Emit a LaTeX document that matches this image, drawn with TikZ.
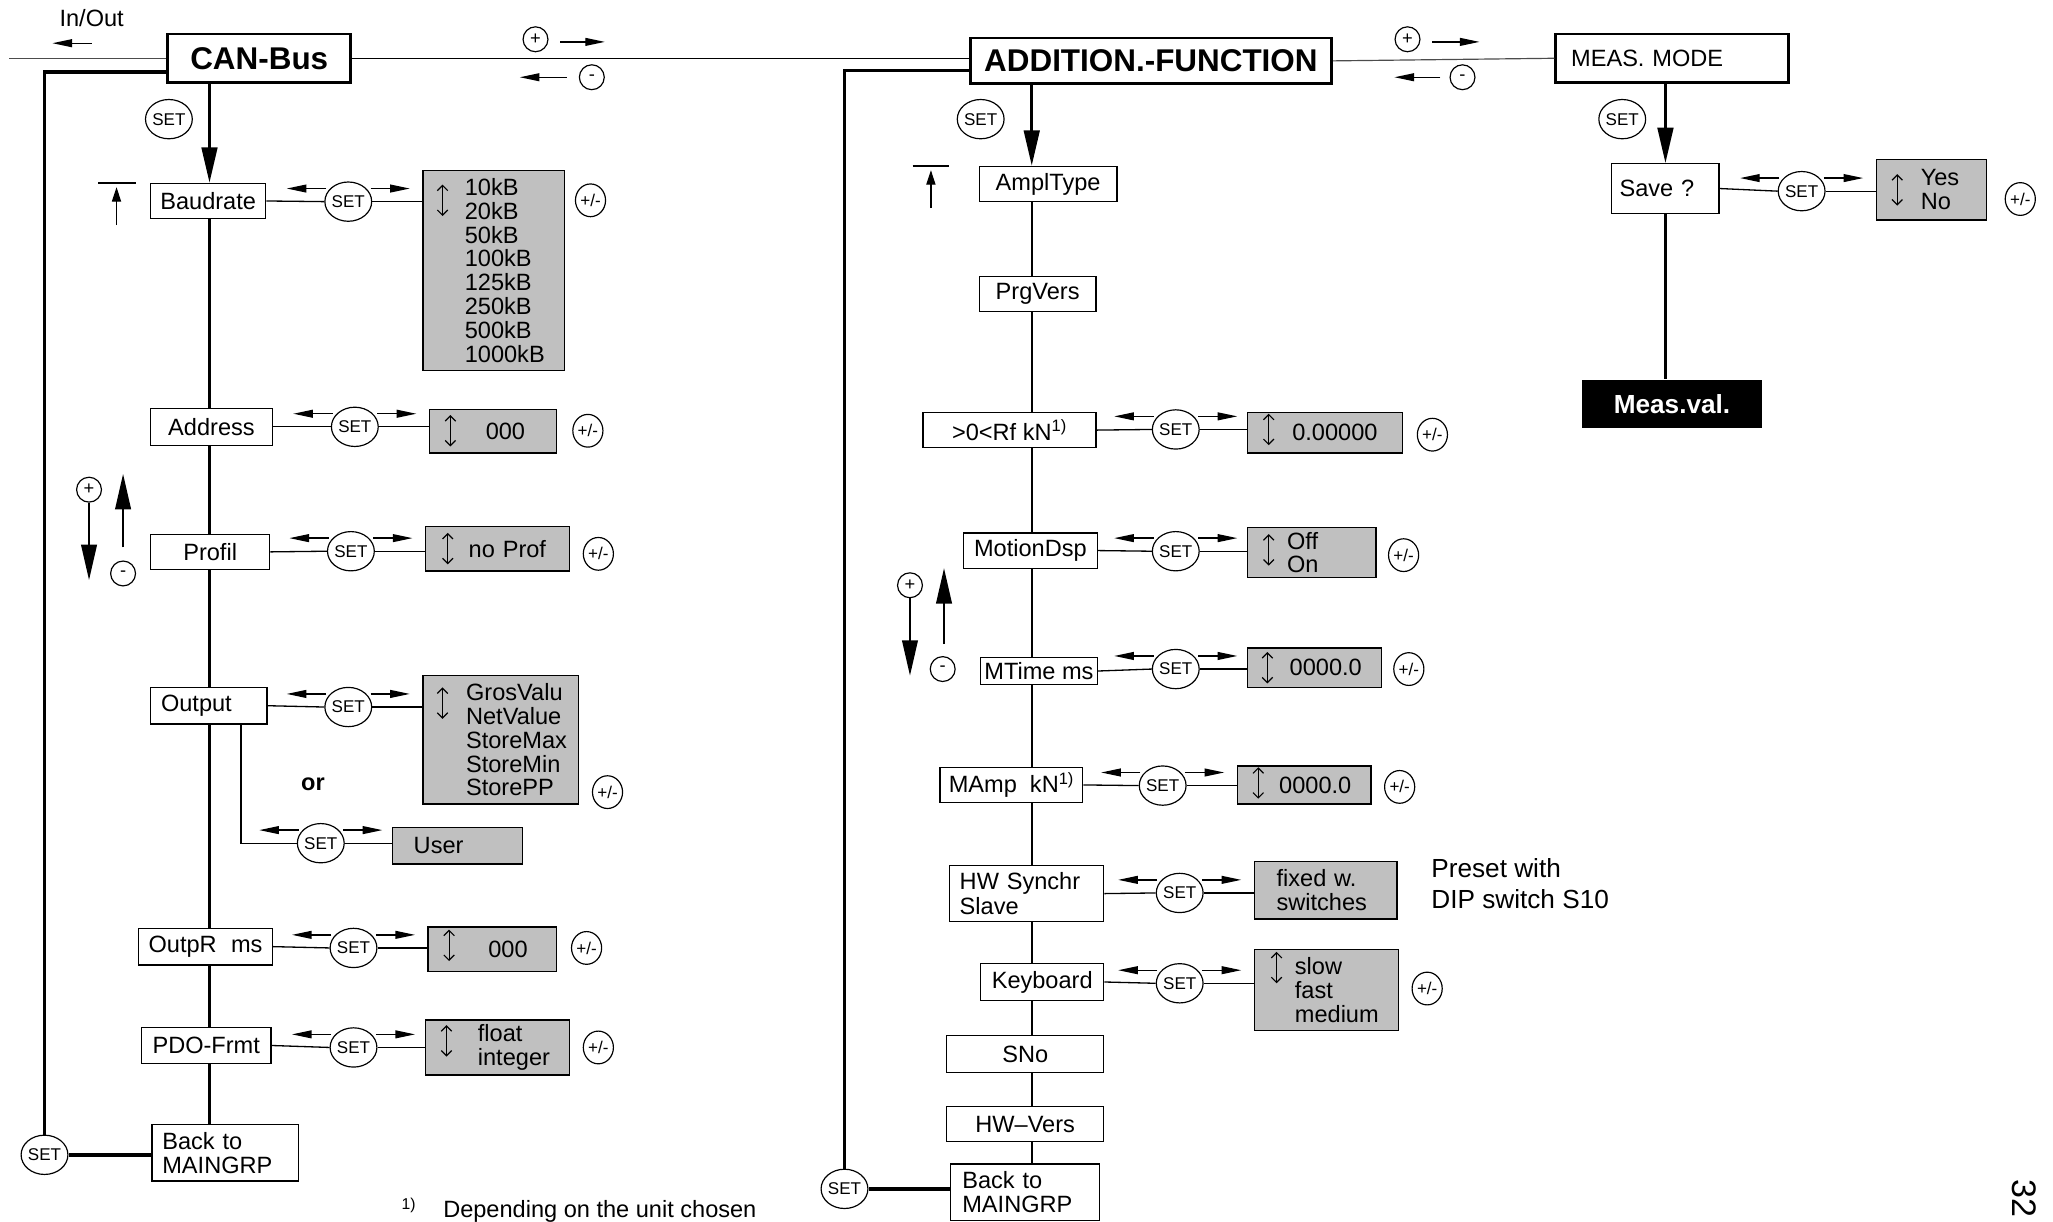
\documentclass[tikz,border=0pt]{standalone}
\usepackage{fontspec}
\setmainfont{Liberation Sans}
\usetikzlibrary{arrows.meta,shapes.geometric,backgrounds}
\definecolor{valgray}{RGB}{192,192,192}
\newcommand\fL{\fontsize{18}{18.6}\selectfont}
\newcommand\fV{\fontsize{18}{18.2}\selectfont}
\newcommand\mklab[7][]{%
  \pgfmathsetmacro\mkw{#5-#3}\pgfmathsetmacro\mkh{#6-#4}%
  \node[lab, minimum width=\mkw pt, minimum height=\mkh pt, #1] (#2) at ({(#3+#5)/2},{(#4+#6)/2}) {#7};}
\newcommand\mkboxL[8][]{%
  \pgfmathsetmacro\mkw{#5-#3}\pgfmathsetmacro\mkh{#6-#4}\pgfmathsetmacro\mkt{#5-#3-2*#7}%
  \node[#1, minimum width=\mkw pt, minimum height=\mkh pt, text width=\mkt pt, align=left] (#2) at ({(#3+#5)/2},{(#4+#6)/2}) {#8};}
\newcommand\ud[2]{\draw[updown] (#1,{#2-12}) -- (#1,{#2+12});}
\newcommand\setarr[1]{%
  \draw[sarr] ([shift={(-17,-10)}]#1.center) -- ++(-30,0);
  \draw[sarr] ([shift={(17,-10)}]#1.center) -- ++(30,0);}
\begin{document}
\begin{tikzpicture}[x=1pt,y=-1pt,
  lab/.style={draw, line width=1pt, fill=white, inner sep=0pt, font=\fL},
  hdr/.style={draw, line width=2.2pt, fill=white, inner sep=0pt, font=\bfseries\fontsize{24}{24}\selectfont},
  val/.style={draw, line width=1pt, fill=valgray, inner sep=0pt, font=\fV},
  setc/.style={draw, ellipse, line width=0.9pt, minimum width=28pt, minimum height=30pt, inner sep=0pt, fill=white, font=\fontsize{13}{13}\selectfont},
  pmc/.style={draw, ellipse, line width=0.9pt, minimum width=23pt, minimum height=25pt, inner sep=0pt, font=\fontsize{13}{13}\selectfont},
  sgn/.style={draw, circle, line width=0.9pt, minimum size=19pt, inner sep=0pt, font=\fontsize{14}{14}\selectfont},
  conn/.style={line width=1pt},
  gline/.style={line width=0.9pt, black!70},
  spine/.style={line width=1.8pt},
  loopl/.style={line width=2.6pt},
  sarr/.style={line width=1pt, -{Triangle[length=15pt,width=6pt]}},
  bigarr/.style={line width=2pt, -{Triangle[length=27pt,width=12pt]}},
  navarr/.style={line width=1.3pt, -{Triangle[length=27pt,width=12pt]}},
  toparr/.style={line width=0.9pt, -{Triangle[length=11pt,width=7pt]}},
  updown/.style={line width=0.9pt, {Straight Barb[length=4pt,width=8pt]}-{Straight Barb[length=4pt,width=8pt]}}
]
\useasboundingbox (0,0) rectangle (1568,933);
\clip (0,0) rectangle (1568,933);

% ---------------- header row ----------------
\node[hdr, minimum width=140pt, minimum height=37pt] (can) at (198,44.5) {CAN-Bus};
\node[hdr, minimum width=276pt, minimum height=35pt] (add) at (879,46.5) {ADDITION.-FUNCTION};
\mkboxL[lab, line width=1.6pt, inner sep=0pt]{meas}{1188}{26}{1366}{63}{12}{MEAS.~MODE}
\node[font=\fL] (inout) at (70,14) {In/Out};
\draw[sarr] (70,33) -- (40,33);
\coordinate (lin) at (7,44.5);
\draw[gline] (lin) -- (can.west);
\draw[conn] (can.east) -- (can.east -| add.west);
\draw[gline] (add.east) -- (meas.west);
\node[sgn] (p1) at (409,30) {+};
\draw[sarr] (428,32) -- (462,32);
\node[sgn] (m1) at (452,59) {-};
\draw[sarr] (433,59) -- (397,59);
\node[sgn] (p2) at (1075,30) {+};
\draw[sarr] (1094,32) -- (1130,32);
\node[sgn] (m2) at (1117,59) {-};
\draw[sarr] (1100,59) -- (1065,59);

% ---------------- CAN-Bus column ----------------
\coordinate (spL) at (160,0);
\node[setc] (set0) at (129,91) {SET};
\mklab{baud}{115}{140}{203}{167}{Baudrate}
\mklab{addr}{115}{312}{208}{340}{Address}
\mklab{prof}{115}{408}{206}{435}{Profil}
\mkboxL[lab]{outp}{115}{525}{204}{553}{8}{Output}
\mklab{outr}{106}{709}{208}{737}{OutpR\hspace{11pt}ms}
\mklab{pdo}{108}{785}{207}{812}{PDO-Frmt}
\mkboxL[lab]{back1}{116}{859}{228}{902}{8}{Back~to\\MAINGRP}
\draw[bigarr] (can.south -| spL) -- (spL |- baud.north);
% top marker and +/- indicators
\draw[line width=1.4pt] (75,140) -- (104,140);
\draw[toparr] (89,172) -- (89,143);
\node[sgn] (pL) at (68,374) {+};
\draw[navarr] (pL.south) -- (68,443);
\draw[navarr] (94,418) -- (94,362);
\node[sgn] (mL) at (94,438) {-};
% return loop
\coordinate (lc1) at (0,55);
\node[setc] (setL) at (34,882) {SET};
\draw[loopl] (can.west |- lc1) -| (setL.north);
\draw[loopl] (setL.east) -- (setL.east -| back1.west);

% Baudrate row
\node[setc] (sbd) at (266,154) {SET};
\mkboxL[val]{vbaud}{323}{130}{431}{283}{32}{10kB\\20kB\\50kB\\100kB\\125kB\\250kB\\500kB\\1000kB}
\node[pmc] (pmbd) at (451,153) {+/-};
\draw[conn] (baud.east) -- (sbd.west);
\draw[conn] (sbd.east) -- (sbd.east -| vbaud.west);
\setarr{sbd}
\ud{338}{153}
% Address row
\node[setc] (sad) at (271,326) {SET};
\mkboxL[val]{vaddr}{328}{313}{425}{346}{43}{000}
\node[pmc] (pmad) at (449,329) {+/-};
\draw[conn] (addr.east) -- (sad.west);
\draw[conn] (sad.east) -- (sad.east -| vaddr.west);
\setarr{sad}
\ud{344}{329}
% Profil row
\node[setc] (spr) at (268,421) {SET};
\mkboxL[val]{vprof}{325}{402}{435}{436}{33}{no~Prof}
\node[pmc] (pmpr) at (457,423) {+/-};
\draw[conn] (prof.east) -- (spr.west);
\draw[conn] (spr.east) -- (spr.east -| vprof.west);
\setarr{spr}
\ud{342}{419}
% Output row
\node[setc] (sou) at (266,540) {SET};
\mkboxL[val]{vout}{323}{516}{442}{614}{33}{GrosValu\\NetValue\\StoreMax\\StoreMin\\StorePP}
\node[pmc] (pmou) at (464,605) {+/-};
\draw[conn] (outp.east) -- (sou.west);
\draw[conn] (sou.east) -- (sou.east -| vout.west);
\setarr{sou}
\ud{338}{537}
\node[font=\bfseries\fL] (or) at (239,599) {or};
\coordinate (br) at (184,0);
\node[setc] (sus) at (245,644) {SET};
\mkboxL[val]{user}{300}{632}{399}{660}{16}{User}
\draw[conn] (outp.south -| br) |- (sus.west);
\draw[conn] (sus.east) -- (sus.east -| user.west);
\setarr{sus}
% OutpR row
\node[setc] (sor) at (270,724) {SET};
\mkboxL[val]{vor}{327}{708}{425}{742}{46}{000}
\node[pmc] (pmor) at (448,724) {+/-};
\draw[conn] (outr.east) -- (sor.west);
\draw[conn] (sor.east) -- (sor.east -| vor.west);
\setarr{sor}
\ud{343}{722}
% PDO row
\node[setc] (spd) at (270,800) {SET};
\mkboxL[val]{vpdo}{325}{779}{435}{821}{40}{float\\integer}
\node[pmc] (pmpd) at (457,800) {+/-};
\draw[conn] (pdo.east) -- (spd.west);
\draw[conn] (spd.east) -- (spd.east -| vpdo.west);
\setarr{spd}
\ud{341}{795}

% footnote
\node[font=\fontsize{12}{12}\selectfont, anchor=base] (fnm) at (312,924) {1)};
\node[font=\fL, anchor=base west] (fnt) at (335,930) {Depending on the unit chosen};

% ---------------- ADDITION column ----------------
\coordinate (spM) at (788,0);
\node[setc] (setM0) at (749,91) {SET};
\mklab{ampl}{748}{127}{853}{154}{AmplType}
\mklab{prg}{748}{211}{837}{238}{PrgVers}
\mklab{rf}{705}{315}{837}{342}{>0<Rf kN\textsuperscript{1)}}
\mklab{mot}{736}{407}{838}{434}{MotionDsp}
\mklab{mt}{749}{502}{838}{523}{MTime ms}
\mklab{ma}{718}{586}{827}{613}{MAmp\hspace{10pt}kN\textsuperscript{1)}}
\mkboxL[lab]{hw}{725}{661}{843}{704}{8}{HW~Synchr\\Slave}
\mklab{kb}{749}{736}{843}{764}{Keyboard}
\mklab{sno}{723}{791}{843}{819}{SNo}
\mklab{hwv}{723}{845}{843}{872}{HW–Vers}
\mkboxL[lab]{back2}{726}{889}{840}{932}{9}{Back~to\\MAINGRP}
\draw[bigarr] (add.south -| spM) -- (spM |- ampl.north);
\draw[line width=1.4pt] (697,127) -- (725,127);
\draw[toparr] (711,159) -- (711,130);
\node[sgn] (pM) at (695,447) {+};
\draw[navarr] (pM.south) -- (695,516);
\draw[navarr] (721,492) -- (721,434);
\node[sgn] (mM) at (720,511) {-};
\coordinate (lc2) at (0,54);
\node[setc] (setM) at (645,908) {SET};
\draw[loopl] (add.west |- lc2) -| (setM.north);
\draw[loopl] (setM.east) -- (setM.east -| back2.west);

% Rf row
\node[setc] (srf) at (898,328) {SET};
\mkboxL[val]{vrf}{953}{315}{1071}{346}{34}{0.00000}
\node[pmc] (pmrf) at (1094,332) {+/-};
\draw[conn] (rf.east) -- (srf.west);
\draw[conn] (srf.east) -- (srf.east -| vrf.west);
\setarr{srf}
\ud{969}{328}
% MotionDsp row
\node[setc] (smo) at (898,421) {SET};
\mkboxL[val]{vmot}{953}{403}{1051}{441}{30}{Off\\On}
\node[pmc] (pmmo) at (1072,424) {+/-};
\draw[conn] (mot.east) -- (smo.west);
\draw[conn] (smo.east) -- (smo.east -| vmot.west);
\setarr{smo}
\ud{969}{420}
% MTime row
\node[setc] (smt) at (898,511) {SET};
\mkboxL[val]{vmt}{953}{495}{1055}{525}{32}{0000.0}
\node[pmc] (pmmt) at (1076,511) {+/-};
\draw[conn] (mt.east) -- (smt.west);
\draw[conn] (smt.east) -- (smt.east -| vmt.west);
\setarr{smt}
\ud{968}{510}
% MAmp row
\node[setc] (sma) at (888,600) {SET};
\mkboxL[val]{vma}{945}{585}{1047}{614}{32}{0000.0}
\node[pmc] (pmma) at (1069,601) {+/-};
\draw[conn] (ma.east) -- (sma.west);
\draw[conn] (sma.east) -- (sma.east -| vma.west);
\setarr{sma}
\ud{961}{598}
% HW Synchr row
\node[setc] (shw) at (901,682) {SET};
\mkboxL[val]{vhw}{958}{658}{1067}{702}{17}{fixed~w.\\switches}
\draw[conn] (hw.east) -- (shw.west);
\draw[conn] (shw.east) -- (shw.east -| vhw.west);
\setarr{shw}
\node[font=\fontsize{20}{24}\selectfont, align=left, anchor=west, inner sep=0pt] (preset) at (1093,675) {Preset with\\DIP switch S10};
% Keyboard row
\node[setc] (skb) at (901,751) {SET};
\mkboxL[val]{vkb}{958}{725}{1068}{787}{31}{slow\\fast\\medium}
\node[pmc] (pmkb) at (1090,755) {+/-};
\draw[conn] (kb.east) -- (skb.west);
\draw[conn] (skb.east) -- (skb.east -| vkb.west);
\setarr{skb}
\ud{975}{739}

% ---------------- MEAS. MODE column ----------------
\coordinate (spR) at (1272,0);
\node[setc] (setR0) at (1239,91) {SET};
\mkboxL[lab]{save}{1231}{125}{1313}{163}{6}{Save~?}
\node[fill=black, text=white, inner sep=0pt, minimum width=138pt, minimum height=37pt, font=\bfseries\fontsize{20}{20}\selectfont] (mv) at (1277,308.5) {Meas.val.};
\draw[bigarr] (meas.south -| spR) -- (spR |- save.north);
\draw[spine] (save.south -| spR) -- (spR |- mv.north);
\node[setc] (ssv) at (1376,146) {SET};
\mkboxL[val]{vsv}{1433}{122}{1517}{168}{34}{Yes\\No}
\node[pmc] (pmsv) at (1543,152) {+/-};
\draw[conn] (save.east) -- (ssv.west);
\draw[conn] (ssv.east) -- (ssv.east -| vsv.west);
\setarr{ssv}
\ud{1449}{145}

% spines behind the boxes
\begin{pgfonlayer}{background}
  \draw[spine] (spL |- baud.south) -- (spL |- back1.north);
  \draw[spine] (spM |- ampl.south) -- (spM |- back2.north);
\end{pgfonlayer}

% page number
\node[rotate=-90, anchor=base west, inner sep=0pt, font=\fontsize{26}{26}\selectfont] (pg) at (1537,901) {32};
\end{tikzpicture}
\end{document}
